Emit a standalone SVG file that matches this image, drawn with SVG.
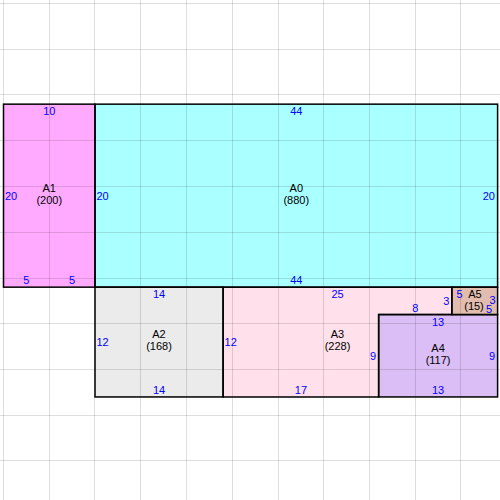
<svg xmlns="http://www.w3.org/2000/svg" width="500" height="500" viewBox="0 0 500 500">
<style>
.grid line{stroke:#000;stroke-opacity:0.13;stroke-width:1}
.shape{stroke:#000;stroke-width:1.5}
.nm{font-family:"Liberation Sans",Arial,sans-serif;font-size:11px;fill:#000;text-anchor:middle}
.ed{font-family:"Liberation Sans",Arial,sans-serif;font-size:11px;fill:#0000ff;text-anchor:middle}
.st{text-anchor:start}
.en{text-anchor:end}
</style>
<rect x="0" y="0" width="500" height="500" fill="#fff"/>
<g id="fills">
<rect x="3.5" y="104.15" width="91.5" height="183" fill="#ffaaff"/>
<rect x="95" y="104.15" width="402.6" height="183" fill="#aaffff"/>
<rect x="95" y="287.15" width="128.1" height="109.8" fill="#ebebeb"/>
<polygon points="223.1,287.15 451.85,287.15 451.85,314.6 378.65,314.6 378.65,396.95 223.1,396.95" fill="#ffe0eb"/>
<rect x="378.65" y="314.6" width="118.95" height="82.35" fill="#dabef5"/>
<rect x="451.85" y="287.15" width="45.75" height="27.45" fill="#e2bcae"/>
</g>
<g class="grid">
<line x1="3.5" y1="0" x2="3.5" y2="500"/><line x1="49.5" y1="0" x2="49.5" y2="500"/><line x1="94.5" y1="0" x2="94.5" y2="500"/><line x1="140.5" y1="0" x2="140.5" y2="500"/><line x1="186.5" y1="0" x2="186.5" y2="500"/><line x1="232.5" y1="0" x2="232.5" y2="500"/><line x1="278.5" y1="0" x2="278.5" y2="500"/><line x1="323.5" y1="0" x2="323.5" y2="500"/><line x1="369.5" y1="0" x2="369.5" y2="500"/><line x1="415.5" y1="0" x2="415.5" y2="500"/><line x1="460.5" y1="0" x2="460.5" y2="500"/>
<line x1="0" y1="3.5" x2="500" y2="3.5"/><line x1="0" y1="49.5" x2="500" y2="49.5"/><line x1="0" y1="94.5" x2="500" y2="94.5"/><line x1="0" y1="140.5" x2="500" y2="140.5"/><line x1="0" y1="186.5" x2="500" y2="186.5"/><line x1="0" y1="232.5" x2="500" y2="232.5"/><line x1="0" y1="278.5" x2="500" y2="278.5"/><line x1="0" y1="323.5" x2="500" y2="323.5"/><line x1="0" y1="369.5" x2="500" y2="369.5"/><line x1="0" y1="415.5" x2="500" y2="415.5"/><line x1="0" y1="460.5" x2="500" y2="460.5"/>
</g>
<g id="A1">
<rect class="shape" x="3.5" y="104.15" width="91.5" height="183" fill="none"/>
<text class="nm" x="49.25" y="192">A1</text><text class="nm" x="49.25" y="204">(200)</text>
<text class="ed" x="49.25" y="115">10</text>
<text class="ed st" x="5" y="199.5">20</text>
<text class="ed" x="26.4" y="284">5</text><text class="ed" x="72.1" y="284">5</text>
</g>
<g id="A0">
<rect class="shape" x="95" y="104.15" width="402.6" height="183" fill="none"/>
<text class="nm" x="296.3" y="192">A0</text><text class="nm" x="296.3" y="204">(880)</text>
<text class="ed" x="296.3" y="115">44</text>
<text class="ed" x="296.3" y="284">44</text>
<text class="ed st" x="96.5" y="199.5">20</text>
<text class="ed en" x="495" y="199.5">20</text>
</g>
<g id="A2">
<rect class="shape" x="95" y="287.15" width="128.1" height="109.8" fill="none"/>
<text class="nm" x="159" y="338">A2</text><text class="nm" x="159" y="350">(168)</text>
<text class="ed" x="159" y="298">14</text>
<text class="ed" x="159" y="394">14</text>
<text class="ed st" x="96.5" y="346">12</text>
</g>
<g id="A3">
<polygon class="shape" points="223.1,287.15 451.85,287.15 451.85,314.6 378.65,314.6 378.65,396.95 223.1,396.95" fill="none"/>
<text class="nm" x="337.5" y="338">A3</text><text class="nm" x="337.5" y="350">(228)</text>
<text class="ed" x="337.5" y="298">25</text>
<text class="ed st" x="224.6" y="346">12</text>
<text class="ed" x="300.9" y="394">17</text>
<text class="ed en" x="376.2" y="360">9</text>
<text class="ed" x="415.25" y="312">8</text>
<text class="ed en" x="449.4" y="305">3</text>
</g>
<g id="A4">
<rect class="shape" x="378.65" y="314.6" width="118.95" height="82.35" fill="none"/>
<text class="nm" x="438.1" y="351.5">A4</text><text class="nm" x="438.1" y="363.5">(117)</text>
<text class="ed" x="438.1" y="325.5">13</text>
<text class="ed" x="438.1" y="394">13</text>
<text class="ed en" x="495" y="360">9</text>
</g>
<g id="A5">
<rect class="shape" x="451.85" y="287.15" width="45.75" height="27.45" fill="none"/>
<text class="nm" x="475" y="297.5">A5</text><text class="nm" x="474" y="309.5">(15)</text>
<text class="ed" x="459.5" y="298">5</text>
<text class="ed en" x="495.5" y="304">3</text>
<text class="ed" x="489" y="312.5">5</text>
</g>
<g id="connectors"/>
</svg>
